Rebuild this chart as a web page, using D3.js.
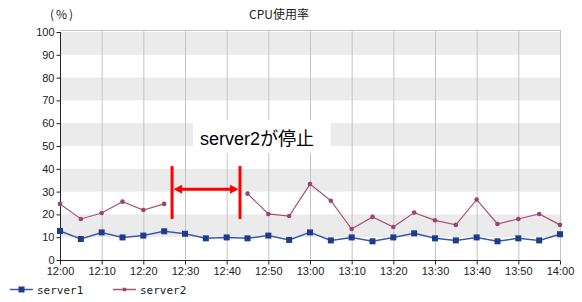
<!DOCTYPE html>
<html><head><meta charset="utf-8">
<script src="https://cdn.jsdelivr.net/npm/d3@7"></script>
<style>body{margin:0;background:#fff}svg{display:block}</style>
</head><body>
<svg id="c" width="582" height="302"></svg>
<script>
// ---- data ----
const timeLabels = ["12:00","12:10","12:20","12:30","12:40","12:50","13:00","13:10","13:20","13:30","13:40","13:50","14:00"];
const minutes = d3.range(0, 121, 5); // sample times, minutes after 12:00
const server1 = [12.7,9.2,12.1,9.9,10.7,12.6,11.5,9.5,9.9,9.5,10.7,8.8,12.1,8.6,9.9,8.2,9.9,11.7,9.5,8.6,9.9,8.2,9.5,8.6,11.3];
const server2 = [24.6,18.0,20.6,25.6,21.9,24.6,null,null,null,29.1,20.2,19.3,33.3,26.0,13.6,18.9,14.5,20.8,17.4,15.4,26.5,15.8,18.0,20.2,15.4];
const yTicks = [0,10,20,30,40,50,60,70,80,90,100];
const seriesNames = ["server1","server2"];
const title = "CPU使用率";
const yUnit = "(%)";
const noteText = "server2が停止";

const svg = d3.select("#c");
const x = d3.scaleLinear().domain([0,120]).range([60,560]);
const y = d3.scaleLinear().domain([0,100]).range([260,32]);
const xTickMin = timeLabels.map((d,i)=>i*10);

// bands
const bands = yTicks.filter(v => v%20===10).map(v => [v, v+10]);
svg.append("g").selectAll("rect").data(bands).join("rect")
  .attr("x", x(0)).attr("width", x(120)-x(0))
  .attr("y", d=>y(d[1])).attr("height", d=>y(d[0])-y(d[1]))
  .attr("fill","#ebebeb");

// vertical grid
svg.append("g").selectAll("line").data(xTickMin.slice(1)).join("line")
  .attr("x1", d=>x(d)+0.5).attr("x2", d=>x(d)+0.5)
  .attr("y1", 30).attr("y2", y(0))
  .attr("stroke","#c4c4c4").attr("stroke-width",1);

// top and right border
svg.append("path")
  .attr("d", `M${x(0)},30.5H${x(120)+0.5}V${y(0)}`)
  .attr("fill","none").attr("stroke","#c4c4c4");

// annotation box (white, breaks grid)
svg.append("rect")
  .attr("x", x(31.9)).attr("width", x(65)-x(31.9))
  .attr("y", y(61.4)).attr("height", y(46.9)-y(61.4))
  .attr("fill","#fff");
svg.append("text").attr("x", x(33.6)).attr("y", y(50.3))
  .attr("font-family","'Liberation Sans', Arial, 'Noto Sans CJK JP', sans-serif").attr("font-size",18)
  .attr("fill","#000").text(noteText);

// axes
const yAxis = d3.axisLeft(y).tickValues(yTicks).tickSize(4).tickPadding(2);
const gy = svg.append("g").attr("transform",`translate(${x(0)+0.5},0)`).call(yAxis);
const xAxis = d3.axisBottom(x).tickValues(xTickMin).tickFormat((d,i)=>timeLabels[i]).tickSize(4).tickPadding(3);
const gx = svg.append("g").attr("transform",`translate(0,${y(0)+0.5})`).call(xAxis);
[gx,gy].forEach(g=>{
  g.select(".domain").attr("stroke","#222");
  g.selectAll(".tick line").attr("stroke","#222");
  g.selectAll("text").attr("font-family","Arial, 'Liberation Sans', sans-serif").attr("font-size",11).attr("fill","#222");
});
gx.select(".domain").attr("d", `M${x(0)},0H${x(120)}`);
gy.select(".domain").attr("d", `M0,${y(0)}V${y(100)}`);

// series
const c1 = "#3a5aa6", m1 = "#1f3c8c", c2 = "#a65478", m2 = "#9c4470";
const pts1 = minutes.map((m,i)=>({m, v:server1[i]}));
const pts2 = minutes.map((m,i)=>({m, v:server2[i]}));
const line = d3.line().defined(d=>d.v!=null).x(d=>x(d.m)).y(d=>y(d.v));
svg.append("path").datum(pts2).attr("d",line).attr("fill","none").attr("stroke",c2).attr("stroke-width",1.2);
svg.append("g").selectAll("circle").data(pts2.filter(d=>d.v!=null)).join("circle")
  .attr("cx",d=>x(d.m)).attr("cy",d=>y(d.v)).attr("r",2.3).attr("fill",m2);
svg.append("path").datum(pts1).attr("d",line).attr("fill","none").attr("stroke",c1).attr("stroke-width",1.5);
svg.append("g").selectAll("rect").data(pts1).join("rect")
  .attr("x",d=>x(d.m)-3).attr("y",d=>y(d.v)-3).attr("width",6).attr("height",6).attr("fill",m1);

// red annotation arrow
const red = "#ff0000";
const ax0 = x(26.9), ax1 = x(43.2), ay = y(31.0);
[ax0, ax1].forEach(xx=>{
  svg.append("line").attr("x1",xx).attr("x2",xx).attr("y1",y(41.2)).attr("y2",y(18.0))
    .attr("stroke",red).attr("stroke-width",3);
});
svg.append("line").attr("x1",ax0+6).attr("x2",ax1-6).attr("y1",ay).attr("y2",ay)
  .attr("stroke",red).attr("stroke-width",3);
svg.append("path").attr("d",`M${ax0+1.5},${ay}L${ax0+10},${ay-4.5}L${ax0+10},${ay+4.5}Z`).attr("fill",red);
svg.append("path").attr("d",`M${ax1-1.5},${ay}L${ax1-10},${ay-4.5}L${ax1-10},${ay+4.5}Z`).attr("fill",red);

// title & unit
svg.append("text").attr("x",279).attr("y",19).attr("text-anchor","middle")
  .attr("font-family","'Noto Sans CJK JP', sans-serif").attr("font-size",12).attr("fill","#222").text(title);
svg.append("text").attr("x",50).attr("y",19).attr("letter-spacing",2)
  .attr("font-family","'Noto Sans CJK JP', sans-serif").attr("font-size",12).attr("fill","#222").text(yUnit);

// legend
const lg = svg.append("g");
const legendItems = [
  {name:seriesNames[0], c:c1, m:m1, x0:10, type:"sq"},
  {name:seriesNames[1], c:c2, m:m2, x0:113, type:"ci"}
];
legendItems.forEach(it=>{
  const ly = 289.5;
  lg.append("line").attr("x1",it.x0).attr("x2",it.x0+23).attr("y1",ly).attr("y2",ly).attr("stroke",it.c).attr("stroke-width",1.5);
  if(it.type==="sq") lg.append("rect").attr("x",it.x0+8.5).attr("y",ly-3).attr("width",6).attr("height",6).attr("fill",it.m);
  else lg.append("circle").attr("cx",it.x0+11.5).attr("cy",ly).attr("r",2).attr("fill",it.m);
  lg.append("text").attr("x",it.x0+27).attr("y",ly+4).attr("font-family","'DejaVu Sans Mono', monospace")
    .attr("font-size",11).attr("fill","#222").text(it.name);
});
</script>
</body></html>
